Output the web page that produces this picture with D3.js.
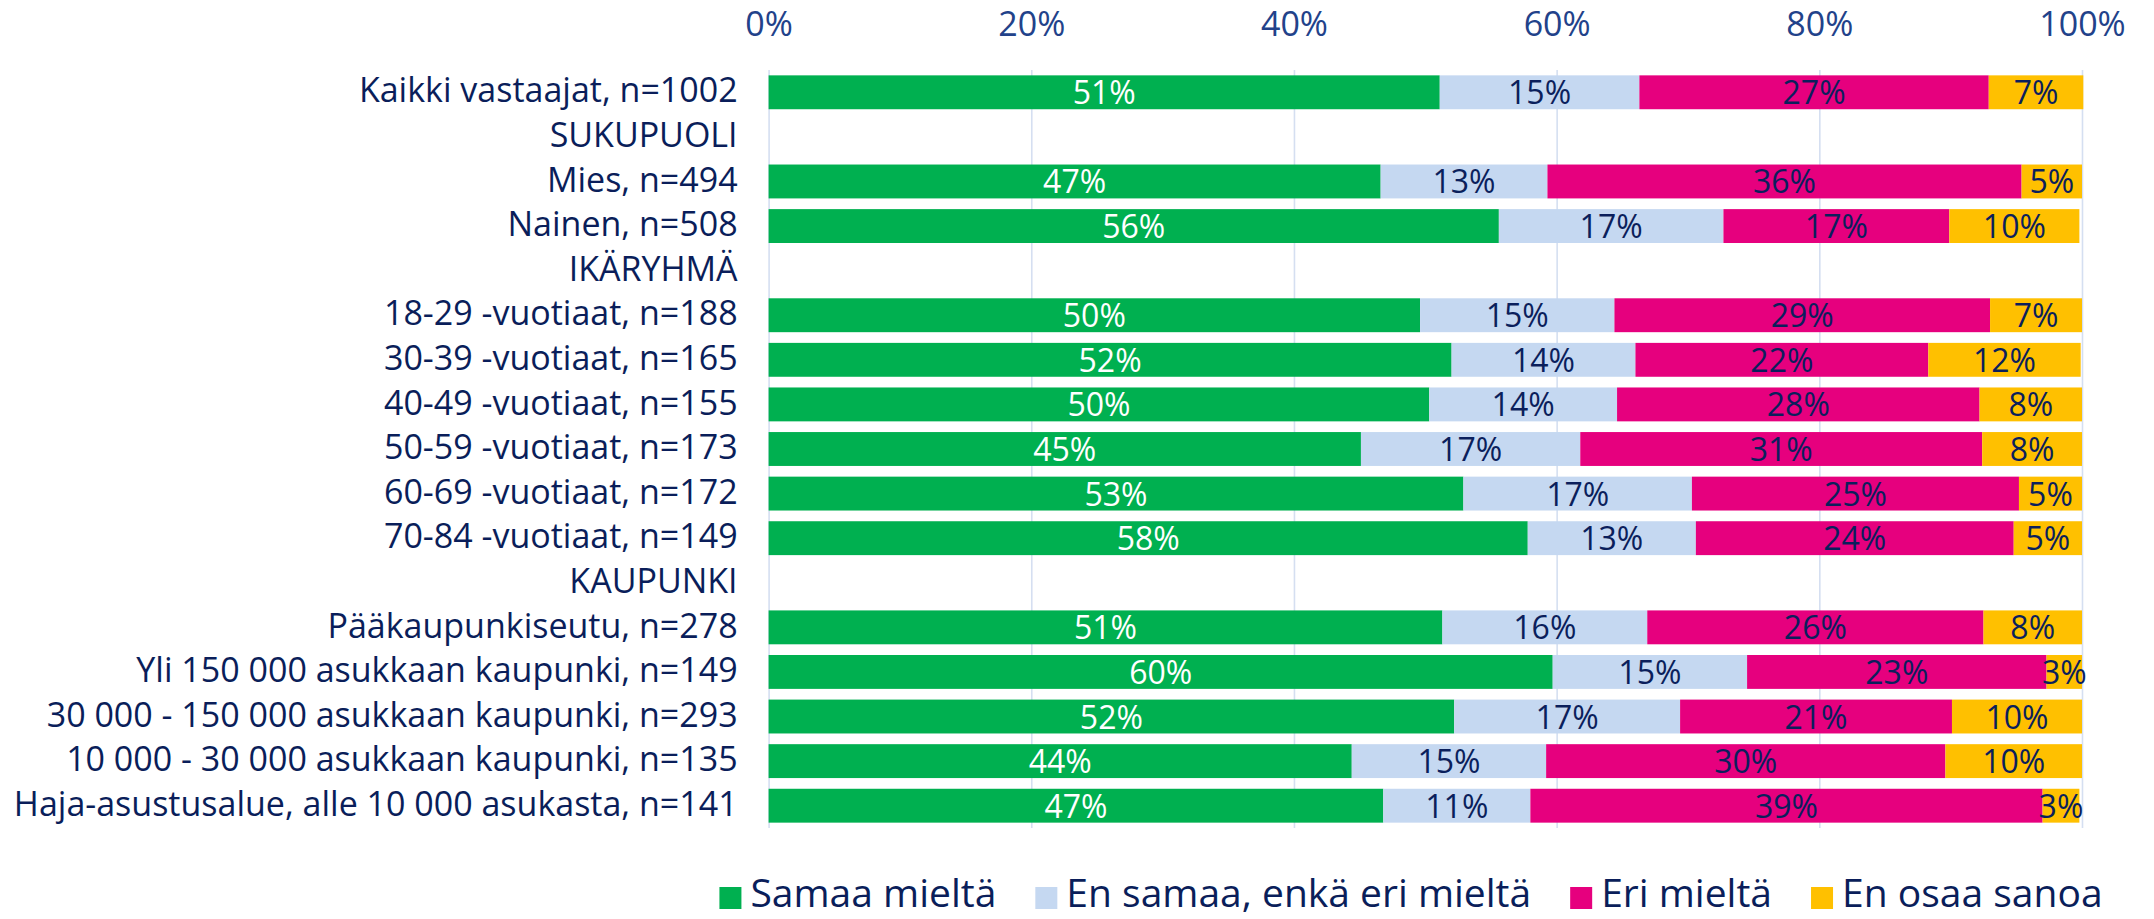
<!DOCTYPE html>
<html>
<head>
<meta charset="utf-8">
<script src="https://cdn.jsdelivr.net/npm/d3@7"></script>
<style>
  html, body { margin: 0; padding: 0; background: #ffffff; }
  svg { display: block; }
  text { font-family: "Open Sans", "Noto Sans", sans-serif; }
</style>
</head>
<body>
<svg id="chart" width="2154" height="919"></svg>
<script>
// ---- DATA ----
const categories = [
  "Kaikki vastaajat, n=1002",
  "SUKUPUOLI",
  "Mies, n=494",
  "Nainen, n=508",
  "IKÄRYHMÄ",
  "18-29 -vuotiaat, n=188",
  "30-39 -vuotiaat, n=165",
  "40-49 -vuotiaat, n=155",
  "50-59 -vuotiaat, n=173",
  "60-69 -vuotiaat, n=172",
  "70-84 -vuotiaat, n=149",
  "KAUPUNKI",
  "Pääkaupunkiseutu, n=278",
  "Yli 150 000 asukkaan kaupunki, n=149",
  "30 000 - 150 000 asukkaan kaupunki, n=293",
  "10 000 - 30 000 asukkaan kaupunki, n=135",
  "Haja-asustusalue, alle 10 000 asukasta, n=141"
];
const seriesNames = ["Samaa mieltä", "En samaa, enkä eri mieltä", "Eri mieltä", "En osaa sanoa"];
const samaaMielta = [51.1, null, 46.6, 55.6, null, 49.6, 52.0, 50.3, 45.1, 52.9, 57.8, null, 51.3, 59.7, 52.2, 44.4, 46.8];
const enSamaaEnkaEri = [15.2, null, 12.7, 17.1, null, 14.8, 14.0, 14.3, 16.7, 17.4, 12.8, null, 15.6, 14.8, 17.2, 14.8, 11.2];
const eriMielta = [26.6, null, 36.1, 17.2, null, 28.6, 22.3, 27.6, 30.6, 24.9, 24.2, null, 25.6, 22.8, 20.7, 30.4, 39.0];
const enOsaaSanoa = [7.2, null, 4.6, 9.9, null, 7.0, 11.6, 7.8, 7.6, 4.8, 5.2, null, 7.5, 2.7, 9.9, 10.4, 2.8];
const tickValues = [0, 20, 40, 60, 80, 100];
const tickLabels = ["0%", "20%", "40%", "60%", "80%", "100%"];

// ---- STYLE ----
const colors = ["#00B050", "#C5D8F1", "#E6007E", "#FFC000"];
const labelColors = ["#ffffff", "#0B1F5C", "#0B1F5C", "#0B1F5C"];
const navy = "#0A1E5A";
const tickColor = "#22428A";
const gridColor = "#D5DFF1";

const svg = d3.select("#chart");
const margin = { left: 768.6, right: 2154 - 2082, top: 70, bottom: 919 - 828 };

const x = d3.scaleLinear().domain([0, 100]).range([margin.left, 2082]);
const y = d3.scaleBand().domain(categories).range([margin.top, 828])
  .paddingInner(0.24).paddingOuter(0.12);

// Build table
const seriesArrays = [samaaMielta, enSamaaEnkaEri, eriMielta, enOsaaSanoa];
const table = categories.map((c, i) => {
  const row = { category: c, isHeader: samaaMielta[i] === null };
  seriesNames.forEach((k, j) => row[k] = seriesArrays[j][i] === null ? 0 : seriesArrays[j][i]);
  return row;
});
const dataRows = table.filter(r => !r.isHeader);
const stacked = d3.stack().keys(seriesNames)(dataRows);

// Gridlines
svg.append("g")
  .attr("transform", `translate(0,828)`)
  .call(d3.axisBottom(x).tickValues(tickValues).tickSize(-(828 - 70)).tickFormat(""))
  .call(g => g.select(".domain").remove())
  .call(g => g.selectAll(".tick line").attr("stroke", gridColor).attr("stroke-width", 1.6));

// Top tick labels
svg.append("g")
  .attr("transform", `translate(0,36)`)
  .call(d3.axisTop(x).tickValues(tickValues).tickSize(0).tickPadding(0)
    .tickFormat((d, i) => tickLabels[i]))
  .call(g => g.select(".domain").remove())
  .call(g => g.selectAll(".tick text")
    .attr("fill", tickColor)
    .attr("font-size", "34px")
    .attr("font-family", "'Open Sans', sans-serif")
    .attr("dy", 0));

// Bars
const layers = svg.append("g").selectAll("g.layer")
  .data(stacked)
  .join("g")
  .attr("class", "layer")
  .attr("fill", (d, i) => colors[i]);

layers.selectAll("rect")
  .data(d => d)
  .join("rect")
  .attr("x", d => x(d[0]))
  .attr("width", d => x(d[1]) - x(d[0]))
  .attr("y", d => y(d.data.category))
  .attr("height", y.bandwidth());

// Value labels
const labelsG = svg.append("g");
stacked.forEach((layer, i) => {
  labelsG.selectAll(null)
    .data(layer)
    .join("text")
    .attr("x", d => (x(d[0]) + x(d[1])) / 2)
    .attr("y", d => y(d.data.category) + y.bandwidth() / 2 + 12)
    .attr("text-anchor", "middle")
    .attr("font-size", "32px")
    .attr("fill", labelColors[i])
    .text(d => Math.round(d.data[layer.key]) + "%");
});

// Category labels
svg.append("g")
  .attr("transform", `translate(${margin.left},0)`)
  .call(d3.axisLeft(y).tickSize(0).tickPadding(31))
  .call(g => g.select(".domain").remove())
  .call(g => g.selectAll(".tick text")
    .attr("fill", navy)
    .attr("font-size", "34px")
    .attr("font-family", "'Open Sans', sans-serif")
    .attr("dy", "0.3em"));

// Legend (flow layout)
const legend = svg.append("g");
const sq = 22, gapSq = 9, gapItem = 39, legendCenter = 1411, legendBaseline = 907;
const items = legend.selectAll("g.item").data(seriesNames).join("g").attr("class", "item");
items.append("rect")
  .attr("width", sq).attr("height", sq)
  .attr("y", 887)
  .attr("fill", (d, i) => colors[i]);
items.append("text")
  .attr("x", sq + gapSq)
  .attr("y", legendBaseline)
  .attr("font-size", "39px")
  .attr("fill", navy)
  .text(d => d);
let widths = [];
items.each(function() { widths.push(d3.select(this).select("text").node().getComputedTextLength()); });
const total = d3.sum(widths.map(w => sq + gapSq + w)) + gapItem * (widths.length - 1);
let cx = legendCenter - total / 2;
items.each(function(d, i) {
  d3.select(this).attr("transform", `translate(${cx},0)`);
  cx += sq + gapSq + widths[i] + gapItem;
});
</script>
</body>
</html>
